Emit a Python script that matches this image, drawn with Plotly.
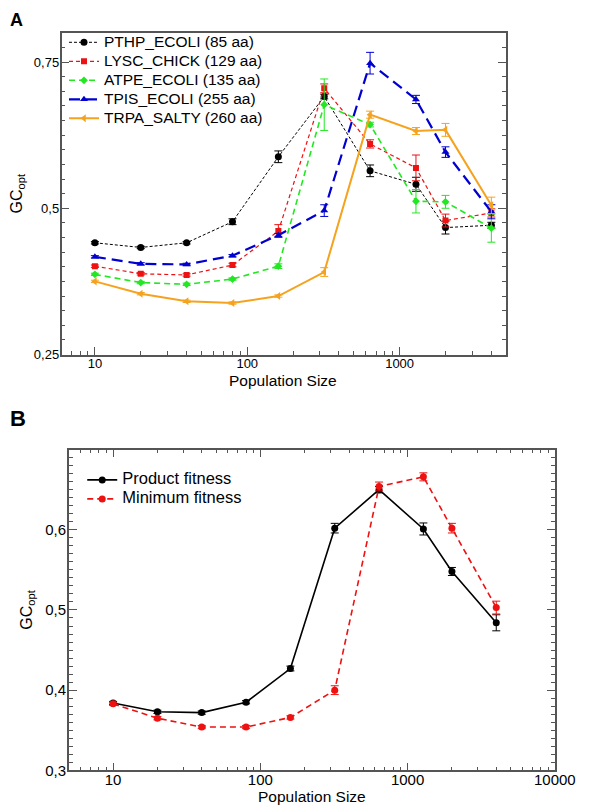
import plotly.graph_objects as go

# ---------------- data ----------------
N = [10, 20, 40, 80, 160, 320, 640, 1280, 2000, 4000]

pthp = [0.441, 0.433, 0.441, 0.477, 0.588, 0.691, 0.564, 0.541, 0.467, 0.471]
pthp_err = [0.002, 0.002, 0.002, 0.005, 0.010, 0.004, 0.010, 0.012, 0.011, 0.005]
lysc = [0.401, 0.388, 0.386, 0.403, 0.461, 0.705, 0.610, 0.569, 0.479, 0.492]
lysc_err = [0.002, 0.002, 0.002, 0.003, 0.011, 0.0075, 0.007, 0.022, 0.011, 0.007]
atpe = [0.387, 0.373, 0.370, 0.379, 0.401, 0.677, 0.643, 0.512, 0.511, 0.466]
atpe_err = [0.002, 0.002, 0.002, 0.002, 0.004, 0.044, 0.004, 0.020, 0.011, 0.024]
tpis = [0.417, 0.405, 0.404, 0.419, 0.454, 0.496, 0.748, 0.686, 0.596, 0.494]
tpis_err = [0.002, 0.002, 0.002, 0.002, 0.003, 0.010, 0.0185, 0.007, 0.009, 0.012]
trpa = [0.375, 0.354, 0.341, 0.338, 0.350, 0.391, 0.660, 0.632, 0.634, 0.505]
trpa_err = [0.002, 0.002, 0.002, 0.002, 0.002, 0.0075, 0.006, 0.006, 0.011, 0.014]

prod = [0.384, 0.373, 0.372, 0.385, 0.427, 0.602, 0.650, 0.601, 0.548, 0.484]
prod_err = [0.002, 0.002, 0.002, 0.002, 0.003, 0.006, 0.004, 0.0075, 0.005, 0.010]
minf = [0.383, 0.365, 0.354, 0.354, 0.366, 0.400, 0.654, 0.666, 0.602, 0.503]
minf_err = [0.002, 0.002, 0.002, 0.002, 0.002, 0.0055, 0.0055, 0.005, 0.006, 0.008]

names_a = ["PTHP_ECOLI (85 aa)", "LYSC_CHICK (129 aa)", "ATPE_ECOLI (135 aa)",
           "TPIS_ECOLI (255 aa)", "TRPA_SALTY (260 aa)"]
names_b = ["Product fitness", "Minimum fitness"]

xa_tickvals = [10, 100, 1000]
xa_ticktext = ["10", "100", "1000"]
xa_minor = [6, 7, 8, 9, 20, 30, 40, 50, 60, 70, 80, 90, 200, 300, 400, 500, 600, 700, 800, 900, 2000, 3000, 4000]
ya_tickvals = [0.25, 0.5, 0.75]
ya_ticktext = ["0,25", "0,5", "0,75"]

xb_tickvals = [10, 100, 1000, 10000]
xb_ticktext = ["10", "100", "1000", "10000"]
xb_minor = [5, 6, 7, 8, 9, 20, 30, 40, 50, 60, 70, 80, 90, 200, 300, 400, 500, 600, 700, 800, 900,
            2000, 3000, 4000, 5000, 6000, 7000, 8000, 9000]
yb_tickvals = [0.3, 0.4, 0.5, 0.6]
yb_ticktext = ["0,3", "0,4", "0,5", "0,6"]

FONT = "Liberation Sans, Arial, sans-serif"

fig = go.Figure()

styles_a = [
    dict(y=pthp, e=pthp_err, color="#000000", dash="3px,2px", width=1, symbol="circle", size=7),
    dict(y=lysc, e=lysc_err, color="#ee1111", dash="4px,3px", width=1.2, symbol="square", size=6),
    dict(y=atpe, e=atpe_err, color="#22e822", dash="6px,4px", width=1.6, symbol="diamond", size=6),
    dict(y=tpis, e=tpis_err, color="#0000d0", dash="11px,6px", width=2.2, symbol="triangle-up", size=7),
    dict(y=trpa, e=trpa_err, color="#f5a31f", dash="solid", width=2, symbol="triangle-left", size=7),
]
for name, s in zip(names_a, styles_a):
    fig.add_trace(go.Scatter(
        x=N, y=s["y"], name='<span style="font-size:15.5px">%s</span>' % name,
        mode="lines+markers",
        line=dict(color=s["color"], dash=s["dash"], width=s["width"]),
        marker=dict(color=s["color"], symbol=s["symbol"], size=s["size"]),
        error_y=dict(type="data", array=s["e"], color=s["color"], width=4, thickness=1),
        xaxis="x", yaxis="y", legend="legend"))

styles_b = [
    dict(y=prod, e=prod_err, color="#000000", dash="solid"),
    dict(y=minf, e=minf_err, color="#ee1111", dash="6px,4px"),
]
for name, s in zip(names_b, styles_b):
    fig.add_trace(go.Scatter(
        x=N, y=s["y"], name='<span style="font-size:16.5px">%s</span>' % name,
        mode="lines+markers",
        line=dict(color=s["color"], dash=s["dash"], width=1.6),
        marker=dict(color=s["color"], symbol="circle", size=7),
        error_y=dict(type="data", array=s["e"], color=s["color"], width=4, thickness=1),
        xaxis="x2", yaxis="y2", legend="legend2"))

W, H = 591, 806
axcol = "#555555"

def xd(a, b):
    return [a / W, b / W]

def yd(top, bottom):
    return [1 - bottom / H, 1 - top / H]

common = dict(showgrid=False, zeroline=False, showline=True, linecolor=axcol, linewidth=1.5,
              ticks="inside", tickcolor=axcol, tickwidth=1, ticklen=8)

fig.update_layout(
    width=W, height=H, margin=dict(l=0, r=0, t=0, b=0),
    paper_bgcolor="white", plot_bgcolor="white",
    font=dict(family=FONT, color="#000000"),
    xaxis=dict(domain=xd(55.5, 516), type="log", range=[0.781, 3.696], anchor="y",
               tickvals=xa_tickvals, ticktext=xa_ticktext, mirror=True,
               minor=dict(tickvals=xa_minor, ticks="inside", ticklen=4, tickcolor=axcol),
               tickfont=dict(size=13), ticklabelstandoff=-4, **common),
    yaxis=dict(domain=yd(25, 350), range=[0.25, 0.8], anchor="x",
               tickvals=ya_tickvals, ticktext=ya_ticktext, mirror="ticks",
               minor=dict(dtick=0.025, tick0=0.25, ticks="inside", ticklen=4, tickcolor=axcol),
               tickfont=dict(size=13), ticklabelstandoff=-2,
               title=dict(text="GC<sub>opt</sub>", font=dict(size=16), standoff=15), **common),
    xaxis2=dict(domain=xd(63, 567), type="log", range=[0.699, 4.0], anchor="y2",
                tickvals=xb_tickvals, ticktext=xb_ticktext, mirror="ticks",
                minor=dict(tickvals=xb_minor, ticks="inside", ticklen=4, tickcolor=axcol),
                tickfont=dict(size=15), ticklabelstandoff=-5, **common),
    yaxis2=dict(domain=yd(446, 770), range=[0.3, 0.7], anchor="x2",
                tickvals=yb_tickvals, ticktext=yb_ticktext, mirror="ticks",
                minor=dict(dtick=0.01, tick0=0.3, ticks="inside", ticklen=4, tickcolor=axcol),
                tickfont=dict(size=15), ticklabelstandoff=-2,
                title=dict(text="GC<sub>opt</sub>", font=dict(size=16), standoff=9), **common),
    legend=dict(x=0.105 - 4 / W, y=1 - 20 / H, xanchor="left", yanchor="top",
                font=dict(size=12.3), bgcolor="rgba(0,0,0,0)", tracegroupgap=0),
    legend2=dict(x=0.137 - 4 / W, y=1 - 462 / H, xanchor="left", yanchor="top",
                 font=dict(size=11), bgcolor="rgba(0,0,0,0)", tracegroupgap=0),
    annotations=[
        dict(text="<b>A</b>", x=0, y=1, xref="paper", yref="paper",
             xanchor="left", yanchor="top", showarrow=False, font=dict(size=18)),
        dict(text="<b>B</b>", x=0, y=1 - 400 / H, xref="paper", yref="paper",
             xanchor="left", yanchor="top", showarrow=False, font=dict(size=22)),
        dict(text="Population Size", x=285.5 / W, y=1 - 376 / H, xref="paper", yref="paper",
             xanchor="center", yanchor="middle", showarrow=False, font=dict(size=15.5)),
        dict(text="Population Size", x=315 / W, y=1 - 796 / H, xref="paper", yref="paper",
             xanchor="center", yanchor="middle", showarrow=False, font=dict(size=15.5)),
    ],
)

fig.write_html("out.html")
